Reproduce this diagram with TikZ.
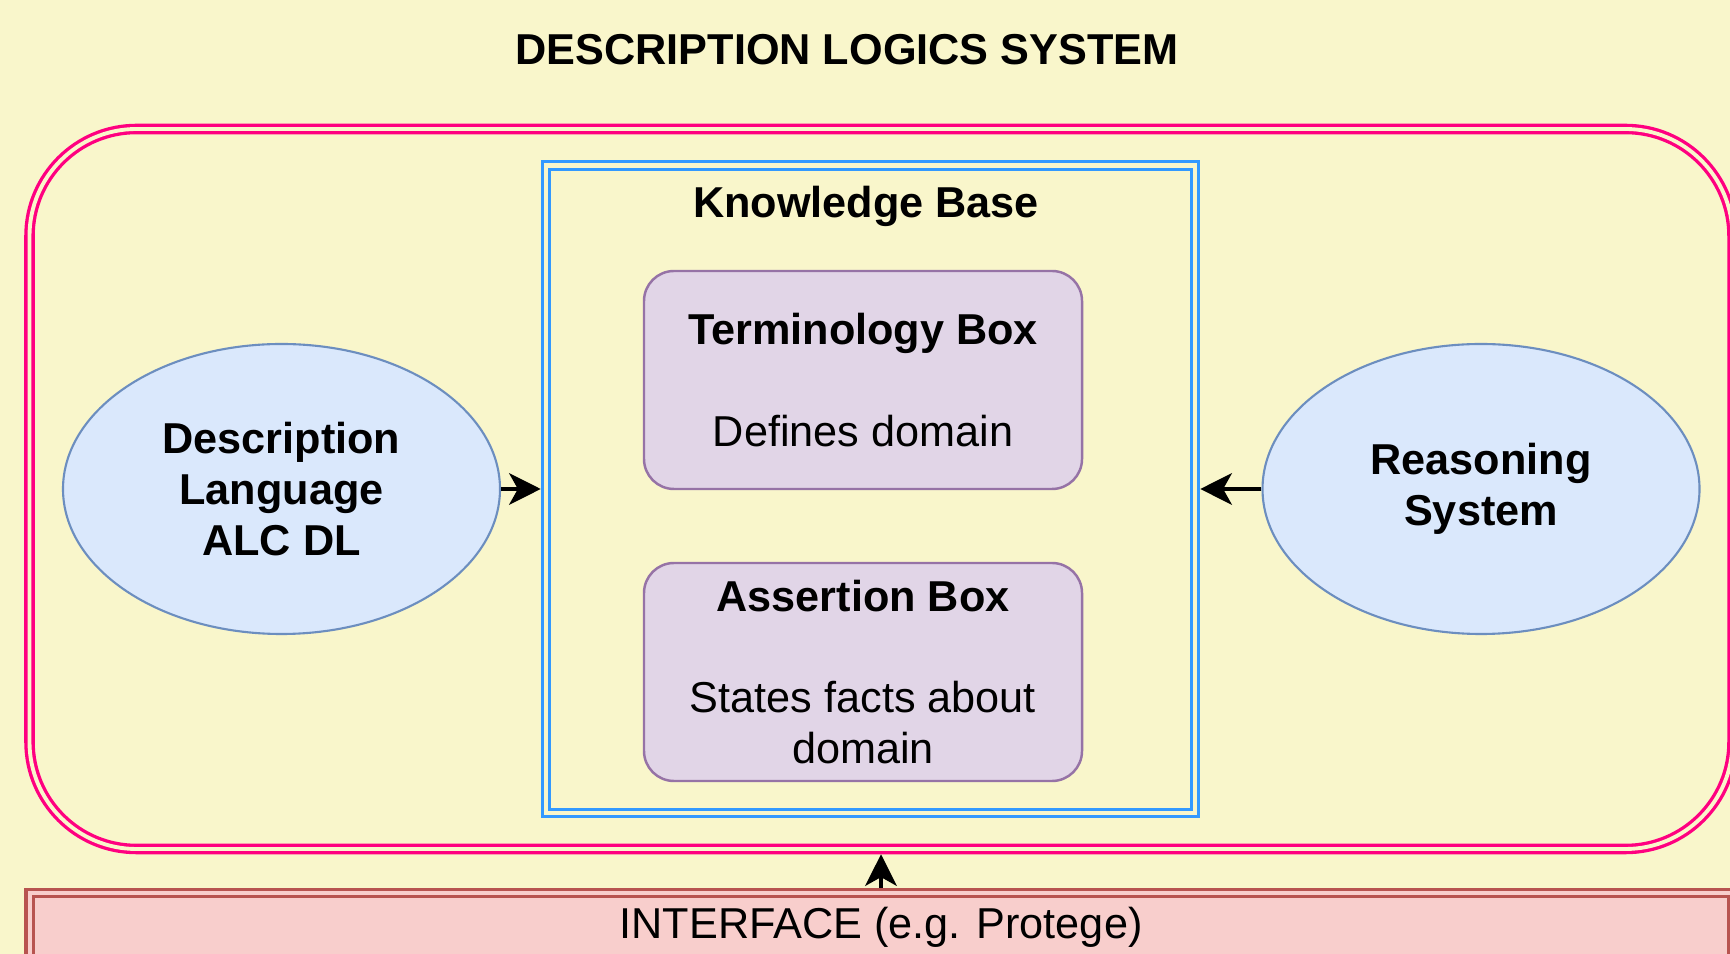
\documentclass[tikz,border=0pt]{standalone}
\usepackage{fontspec}
\setmainfont{Liberation Sans}
\usepackage{xcolor}
\definecolor{paperColor}{HTML}{F9F6CB}
\definecolor{systemColor}{HTML}{FF0080}
\definecolor{kbColor}{HTML}{3399FF}
\definecolor{boxLine}{HTML}{9673A6}
\definecolor{boxFill}{HTML}{E1D5E7}
\definecolor{ovalLine}{HTML}{6C8EBF}
\definecolor{ovalFill}{HTML}{DAE8FC}
\definecolor{ifaceLine}{HTML}{B85450}
\definecolor{ifaceFill}{HTML}{F8CECC}
\usepackage{tikz}
\usetikzlibrary{shapes.geometric, arrows.meta, positioning}

\begin{document}
\begin{tikzpicture}[font=\fontsize{12.3}{14.4}\selectfont,
    oval/.style={ellipse, draw=ovalLine, fill=ovalFill, line width=0.6pt, minimum width=4.37cm, minimum height=2.9cm, align=center, font=\fontsize{12.3}{14.5}\selectfont\bfseries},
    kbox/.style={rectangle, rounded corners=0.3cm, draw=boxLine, fill=boxFill, line width=0.7pt, minimum width=4.38cm, minimum height=2.18cm, align=center},
    feed/.style={-{Stealth[length=9pt, width=9pt, inset=2.5pt]}, line width=1pt}]
        % Page and background
        \useasboundingbox (0,0) rectangle (17.3,-9.54);
        \clip (0,0) rectangle (17.3,-9.54);
        \fill[paperColor] (0,0) rectangle (17.3,-9.54);
        \node[font=\fontsize{12.3}{14.4}\selectfont\bfseries] (title) at (8.47,-0.50) {DESCRIPTION LOGICS SYSTEM};

        % System frame and knowledge base (double lines)
        \node[draw=systemColor, double=paperColor, line width=0.95pt, double distance=1.1pt, rounded corners=1.07cm, minimum width=17.03cm, minimum height=7.2cm, inner sep=0pt, outer sep=1.5pt] (dls) at (8.81,-4.89) {};
        \node[draw=kbColor, double=paperColor, line width=0.8pt, double distance=1.4pt, minimum width=6.49cm, minimum height=6.475cm, inner sep=0pt, outer sep=1.5pt] (kb) at (8.705,-4.8925) {};
        \node[font=\fontsize{12.3}{14.4}\selectfont\bfseries] (kbtitle) at (8.66,-2.06) {Knowledge Base};

        % TBox and ABox
        \node[kbox] (tbox) at (8.63,-3.80) {\textbf{Terminology Box}\\[14.4pt]Defines domain};
        \node[kbox] (abox) at (8.63,-6.72) {\textbf{Assertion Box}\\[14.4pt]States facts about\\domain};

        % Language and reasoner
        \node[oval] (dlang) at (2.815,-4.89) {Description\\Language\\ALC DL};
        \node[oval] (rsys) at (14.81,-4.89) {Reasoning\\System};

        % Interface bar
        \node[draw=ifaceLine, fill=ifaceFill, double=ifaceFill, line width=0.95pt, double distance=1.1pt, minimum width=17.025cm, minimum height=0.68cm, inner sep=0pt, outer sep=1.5pt] (iface) at (8.81,-9.27) {INTERFACE (e.g. Protege)};

        % Arrows
        \draw[feed] (dlang.east) -- (dlang.east -| kb.west);
        \draw[feed] (rsys.west) -- (rsys.west -| kb.east);
        \draw[feed] (iface.north) -- (dls.south);
    \end{tikzpicture}
\end{document}
